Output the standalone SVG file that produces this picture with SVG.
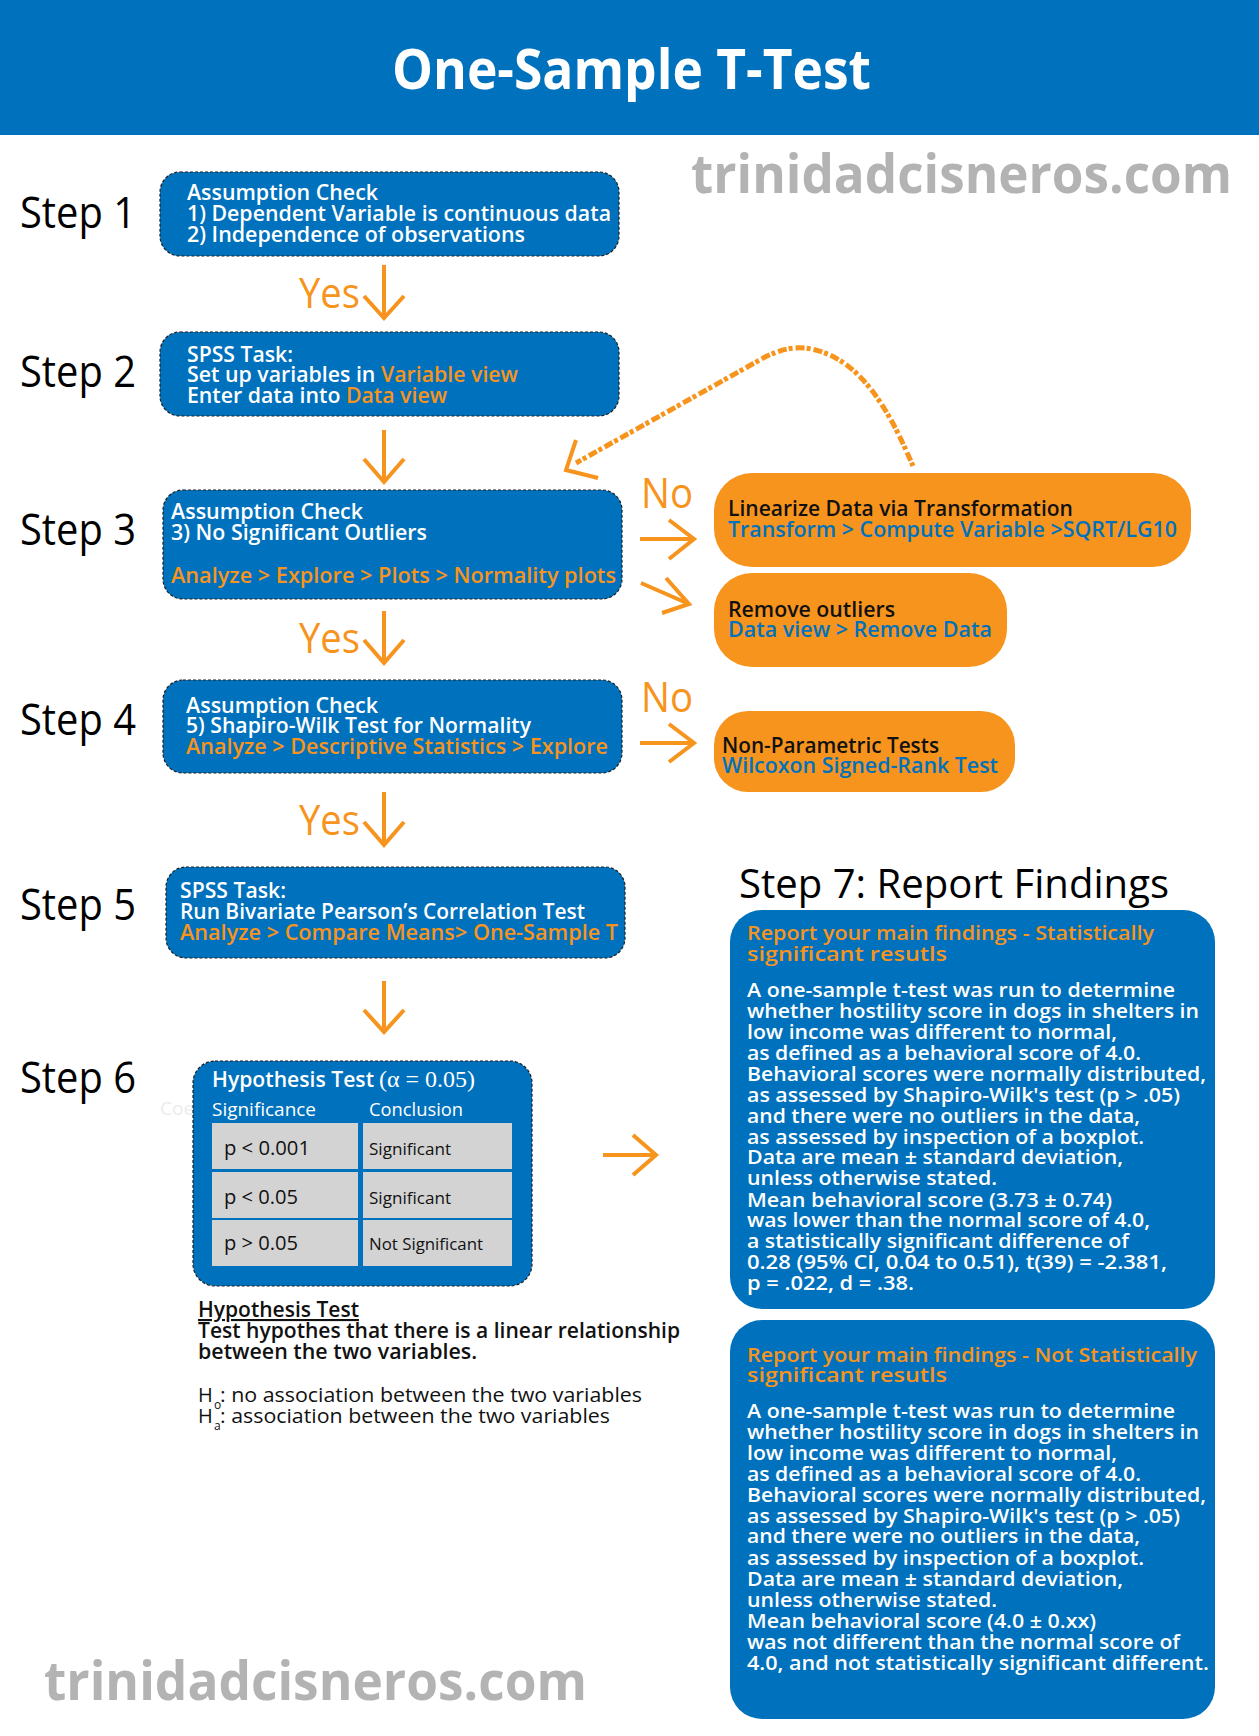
<svg xmlns="http://www.w3.org/2000/svg" width="1259" height="1736" viewBox="0 0 1259 1736">
<style>
text{font-family:"Open Sans","Noto Sans",sans-serif}
text.serif{font-family:"Liberation Serif","DejaVu Serif",serif}
.step{font-size:44px;fill:#000}
.bt{font-size:21px;font-weight:600;fill:#fff}
.or{fill:#f7941d}
.bl{fill:#0071bc}
.dk{fill:#111}
.box{fill:#0071bc;stroke:#1f1f1f;stroke-width:1.2;stroke-dasharray:3 2}
.obox{fill:#f7941d}
.rbox{fill:#0071bc}
.yn{font-size:42px;fill:#f7941d}
.arr{fill:none;stroke:#f7941d;stroke-width:4}
.dash{fill:none;stroke:#f7941d;stroke-width:5;stroke-dasharray:4 2 9 3}
.ot{font-size:22px;font-weight:600}
.rt{font-size:20px;font-weight:600;fill:#fff}
.rh{font-size:20px;font-weight:600;fill:#f7941d}
.wm{font-size:54px;font-weight:700;fill:#b3b3b3}
.cell{fill:#d3d3d3}
.ct{font-size:20px;font-weight:500;fill:#111}
.cs{font-size:16px;font-weight:500;fill:#111}
.ht{font-size:20px;fill:#111}
.nt{font-size:21px;font-weight:600;fill:#111}
</style>

<g id="header">
<rect x="0" y="0" width="1259" height="135" fill="#0071bc"/>
<text x="392" y="89" font-size="55" font-weight="700" fill="#fff" textLength="479" lengthAdjust="spacingAndGlyphs">One-Sample T-Test</text>
</g>

<g id="watermark-top"><text class="wm" x="691" y="193" textLength="541" lengthAdjust="spacingAndGlyphs">trinidadcisneros.com</text></g>
<g id="watermark-bottom"><text class="wm" x="44" y="1700" textLength="543" lengthAdjust="spacingAndGlyphs">trinidadcisneros.com</text></g>

<g id="step-labels">
<text class="step" x="20" y="228" textLength="116" lengthAdjust="spacingAndGlyphs">Step 1</text>
<text class="step" x="20" y="387" textLength="116" lengthAdjust="spacingAndGlyphs">Step 2</text>
<text class="step" x="20" y="545" textLength="116" lengthAdjust="spacingAndGlyphs">Step 3</text>
<text class="step" x="20" y="735" textLength="116" lengthAdjust="spacingAndGlyphs">Step 4</text>
<text class="step" x="20" y="920" textLength="116" lengthAdjust="spacingAndGlyphs">Step 5</text>
<text class="step" x="20" y="1093" textLength="116" lengthAdjust="spacingAndGlyphs">Step 6</text>
</g>

<g id="connectors">
<path class="arr" d="M384 265V318M364 296L384 318L404 296"/>
<path class="arr" d="M384 430V482M364 459L384 482L404 459"/>
<path class="arr" d="M384 611V663M364 640L384 663L404 640"/>
<path class="arr" d="M384 792V845M364 822L384 845L404 822"/>
<path class="arr" d="M384 981V1032M364 1010L384 1032L404 1010"/>
<path class="arr" d="M640 539H694M669 520L694 539L669 559"/>
<path class="arr" d="M641 583L689 604M666 578L689 604L662 613"/>
<path class="arr" d="M640 743H694M669 724L694 743L669 762"/>
<path class="arr" d="M603 1155H656M633 1135L656 1155L633 1175"/>
<path class="dash" d="M913 466C895 425 865 355 805 348C790 347 780 350 765 357L576 463"/>
<path class="arr" stroke-width="5" d="M576 440L566 470L598 478"/>
<text class="yn" x="299" y="308" textLength="61" lengthAdjust="spacingAndGlyphs">Yes</text>
<text class="yn" x="299" y="653" textLength="61" lengthAdjust="spacingAndGlyphs">Yes</text>
<text class="yn" x="299" y="835" textLength="61" lengthAdjust="spacingAndGlyphs">Yes</text>
<text class="yn" x="641" y="508" textLength="52" lengthAdjust="spacingAndGlyphs">No</text>
<text class="yn" x="641" y="712" textLength="52" lengthAdjust="spacingAndGlyphs">No</text>
</g>

<g id="step1">
<rect class="box" x="160" y="172" width="459" height="84" rx="20"/>
<text class="bt" x="187" y="200" textLength="191" lengthAdjust="spacingAndGlyphs">Assumption Check</text>
<text class="bt" x="187" y="221" textLength="424" lengthAdjust="spacingAndGlyphs">1) Dependent Variable is continuous data</text>
<text class="bt" x="187" y="242" textLength="338" lengthAdjust="spacingAndGlyphs">2) Independence of observations</text>
</g>

<g id="step2">
<rect class="box" x="160" y="332" width="459" height="84" rx="20"/>
<text class="bt" x="187" y="362" textLength="106" lengthAdjust="spacingAndGlyphs">SPSS Task:</text>
<text class="bt" x="187" y="382" textLength="331" lengthAdjust="spacingAndGlyphs">Set up variables in <tspan class="or">Variable view</tspan></text>
<text class="bt" x="187" y="403" textLength="260" lengthAdjust="spacingAndGlyphs">Enter data into <tspan class="or">Data view</tspan></text>
</g>

<g id="step3">
<rect class="box" x="163" y="490" width="459" height="109" rx="20"/>
<text class="bt" x="171" y="519" textLength="192" lengthAdjust="spacingAndGlyphs">Assumption Check</text>
<text class="bt" x="171" y="540" textLength="256" lengthAdjust="spacingAndGlyphs">3) No Significant Outliers</text>
<text class="bt or" x="171" y="583" textLength="445" lengthAdjust="spacingAndGlyphs">Analyze &gt; Explore &gt; Plots &gt; Normality plots</text>
</g>

<g id="step4">
<rect class="box" x="163" y="680" width="459" height="93" rx="20"/>
<text class="bt" x="186" y="713" textLength="192" lengthAdjust="spacingAndGlyphs">Assumption Check</text>
<text class="bt" x="186" y="733" textLength="345" lengthAdjust="spacingAndGlyphs">5) Shapiro-Wilk Test for Normality</text>
<text class="bt or" x="186" y="754" textLength="422" lengthAdjust="spacingAndGlyphs">Analyze &gt; Descriptive Statistics &gt; Explore</text>
</g>

<g id="step5">
<rect class="box" x="166" y="867" width="459" height="91" rx="20"/>
<text class="bt" x="180" y="898" textLength="106" lengthAdjust="spacingAndGlyphs">SPSS Task:</text>
<text class="bt" x="180" y="919" textLength="405" lengthAdjust="spacingAndGlyphs">Run Bivariate Pearson’s Correlation Test</text>
<text class="bt or" x="180" y="940" textLength="438" lengthAdjust="spacingAndGlyphs">Analyze &gt; Compare Means&gt; One-Sample T</text>
</g>

<g id="linearize">
<rect class="obox" x="714" y="473" width="477" height="94" rx="38"/>
<text class="ot dk" x="728" y="516" textLength="345" lengthAdjust="spacingAndGlyphs">Linearize Data via Transformation</text>
<text class="ot bl" x="728" y="537" textLength="449" lengthAdjust="spacingAndGlyphs">Transform &gt; Compute Variable &gt;SQRT/LG10</text>
</g>

<g id="remove-outliers">
<rect class="obox" x="714" y="573" width="293" height="94" rx="38"/>
<text class="ot dk" x="728" y="617" textLength="167" lengthAdjust="spacingAndGlyphs">Remove outliers</text>
<text class="ot bl" x="728" y="637" textLength="264" lengthAdjust="spacingAndGlyphs">Data view &gt; Remove Data</text>
</g>

<g id="non-parametric">
<rect class="obox" x="714" y="711" width="301" height="81" rx="34"/>
<text class="ot dk" x="722" y="753" textLength="217" lengthAdjust="spacingAndGlyphs">Non-Parametric Tests</text>
<text class="ot bl" x="722" y="773" textLength="276" lengthAdjust="spacingAndGlyphs">Wilcoxon Signed-Rank Test</text>
</g>

<g id="step6">
<text x="160" y="1115" font-size="19" fill="#ececec">Coe</text>
<rect class="box" x="193" y="1061" width="339" height="225" rx="22"/>
<text class="bt" x="212" y="1087" textLength="162" lengthAdjust="spacingAndGlyphs">Hypothesis Test</text>
<text class="serif" x="379" y="1087" font-size="23" fill="#fff" textLength="96" lengthAdjust="spacingAndGlyphs">(α = 0.05)</text>
<text x="212" y="1116" font-size="18" font-weight="500" fill="#fff" textLength="104" lengthAdjust="spacingAndGlyphs">Significance</text>
<text x="369" y="1116" font-size="18" font-weight="500" fill="#fff" textLength="94" lengthAdjust="spacingAndGlyphs">Conclusion</text>
<rect class="cell" x="212" y="1123" width="146" height="46"/>
<rect class="cell" x="363" y="1123" width="149" height="46"/>
<rect class="cell" x="212" y="1172" width="146" height="46"/>
<rect class="cell" x="363" y="1172" width="149" height="46"/>
<rect class="cell" x="212" y="1220" width="146" height="46"/>
<rect class="cell" x="363" y="1220" width="149" height="46"/>
<text class="ct" x="224" y="1155" textLength="86" lengthAdjust="spacingAndGlyphs">p &lt; 0.001</text>
<text class="ct" x="224" y="1204" textLength="74" lengthAdjust="spacingAndGlyphs">p &lt; 0.05</text>
<text class="ct" x="224" y="1250" textLength="74" lengthAdjust="spacingAndGlyphs">p &gt; 0.05</text>
<text class="cs" x="369" y="1155" textLength="82" lengthAdjust="spacingAndGlyphs">Significant</text>
<text class="cs" x="369" y="1204" textLength="82" lengthAdjust="spacingAndGlyphs">Significant</text>
<text class="cs" x="369" y="1250" textLength="114" lengthAdjust="spacingAndGlyphs">Not Significant</text>
</g>

<g id="hypothesis-note">
<text class="nt" x="198" y="1317" text-decoration="underline" textLength="161" lengthAdjust="spacingAndGlyphs">Hypothesis Test</text>
<text class="nt" x="198" y="1338" textLength="482" lengthAdjust="spacingAndGlyphs">Test hypothes that there is a linear relationship</text>
<text class="nt" x="198" y="1359" textLength="279" lengthAdjust="spacingAndGlyphs">between the two variables.</text>
<text class="ht" x="198" y="1402">H</text>
<text x="214" y="1409" font-size="12" fill="#111">o</text>
<text class="ht" x="220" y="1402" textLength="422" lengthAdjust="spacingAndGlyphs">: no association between the two variables</text>
<text class="ht" x="198" y="1423">H</text>
<text x="214" y="1430" font-size="12" fill="#111">a</text>
<text class="ht" x="220" y="1423" textLength="390" lengthAdjust="spacingAndGlyphs">: association between the two variables</text>
</g>

<g id="step7-title">
<text x="739" y="898" font-size="40" fill="#000" textLength="430" lengthAdjust="spacingAndGlyphs">Step 7: Report Findings</text>
</g>

<g id="report-significant">
<rect class="rbox" x="730" y="910" width="485" height="399" rx="32"/>
<text class="rh" x="747" y="940" textLength="407" lengthAdjust="spacingAndGlyphs">Report your main findings - Statistically</text>
<text class="rh" x="747" y="961" textLength="200" lengthAdjust="spacingAndGlyphs">significant resutls</text>
<text class="rt" x="747" y="997" textLength="428" lengthAdjust="spacingAndGlyphs">A one-sample t-test was run to determine</text>
<text class="rt" x="747" y="1018" textLength="452" lengthAdjust="spacingAndGlyphs">whether hostility score in dogs in shelters in</text>
<text class="rt" x="747" y="1039" textLength="370" lengthAdjust="spacingAndGlyphs">low income was different to normal,</text>
<text class="rt" x="747" y="1060" textLength="394" lengthAdjust="spacingAndGlyphs">as defined as a behavioral score of 4.0.</text>
<text class="rt" x="747" y="1081" textLength="459" lengthAdjust="spacingAndGlyphs">Behavioral scores were normally distributed,</text>
<text class="rt" x="747" y="1102" textLength="433" lengthAdjust="spacingAndGlyphs">as assessed by Shapiro-Wilk's test (p &gt; .05)</text>
<text class="rt" x="747" y="1123" textLength="393" lengthAdjust="spacingAndGlyphs">and there were no outliers in the data,</text>
<text class="rt" x="747" y="1144" textLength="397" lengthAdjust="spacingAndGlyphs">as assessed by inspection of a boxplot.</text>
<text class="rt" x="747" y="1164" textLength="376" lengthAdjust="spacingAndGlyphs">Data are mean ± standard deviation,</text>
<text class="rt" x="747" y="1185" textLength="250" lengthAdjust="spacingAndGlyphs">unless otherwise stated.</text>
<text class="rt" x="747" y="1207" textLength="365" lengthAdjust="spacingAndGlyphs">Mean behavioral score (3.73 ± 0.74)</text>
<text class="rt" x="747" y="1227" textLength="403" lengthAdjust="spacingAndGlyphs">was lower than the normal score of 4.0,</text>
<text class="rt" x="747" y="1248" textLength="382" lengthAdjust="spacingAndGlyphs">a statistically significant difference of</text>
<text class="rt" x="747" y="1269" textLength="420" lengthAdjust="spacingAndGlyphs">0.28 (95% CI, 0.04 to 0.51), t(39) = -2.381,</text>
<text class="rt" x="747" y="1290" textLength="167" lengthAdjust="spacingAndGlyphs">p = .022, d = .38.</text>
</g>

<g id="report-not-significant">
<rect class="rbox" x="730" y="1320" width="485" height="399" rx="32"/>
<text class="rh" x="747" y="1362" textLength="450" lengthAdjust="spacingAndGlyphs">Report your main findings - Not Statistically</text>
<text class="rh" x="747" y="1382" textLength="200" lengthAdjust="spacingAndGlyphs">significant resutls</text>
<text class="rt" x="747" y="1418" textLength="428" lengthAdjust="spacingAndGlyphs">A one-sample t-test was run to determine</text>
<text class="rt" x="747" y="1439" textLength="452" lengthAdjust="spacingAndGlyphs">whether hostility score in dogs in shelters in</text>
<text class="rt" x="747" y="1460" textLength="370" lengthAdjust="spacingAndGlyphs">low income was different to normal,</text>
<text class="rt" x="747" y="1481" textLength="394" lengthAdjust="spacingAndGlyphs">as defined as a behavioral score of 4.0.</text>
<text class="rt" x="747" y="1502" textLength="459" lengthAdjust="spacingAndGlyphs">Behavioral scores were normally distributed,</text>
<text class="rt" x="747" y="1523" textLength="433" lengthAdjust="spacingAndGlyphs">as assessed by Shapiro-Wilk's test (p &gt; .05)</text>
<text class="rt" x="747" y="1543" textLength="393" lengthAdjust="spacingAndGlyphs">and there were no outliers in the data,</text>
<text class="rt" x="747" y="1565" textLength="397" lengthAdjust="spacingAndGlyphs">as assessed by inspection of a boxplot.</text>
<text class="rt" x="747" y="1586" textLength="376" lengthAdjust="spacingAndGlyphs">Data are mean ± standard deviation,</text>
<text class="rt" x="747" y="1607" textLength="250" lengthAdjust="spacingAndGlyphs">unless otherwise stated.</text>
<text class="rt" x="747" y="1628" textLength="349" lengthAdjust="spacingAndGlyphs">Mean behavioral score (4.0 ± 0.xx)</text>
<text class="rt" x="747" y="1649" textLength="433" lengthAdjust="spacingAndGlyphs">was not different than the normal score of</text>
<text class="rt" x="747" y="1670" textLength="462" lengthAdjust="spacingAndGlyphs">4.0,  and not statistically significant different.</text>
</g>
</svg>
